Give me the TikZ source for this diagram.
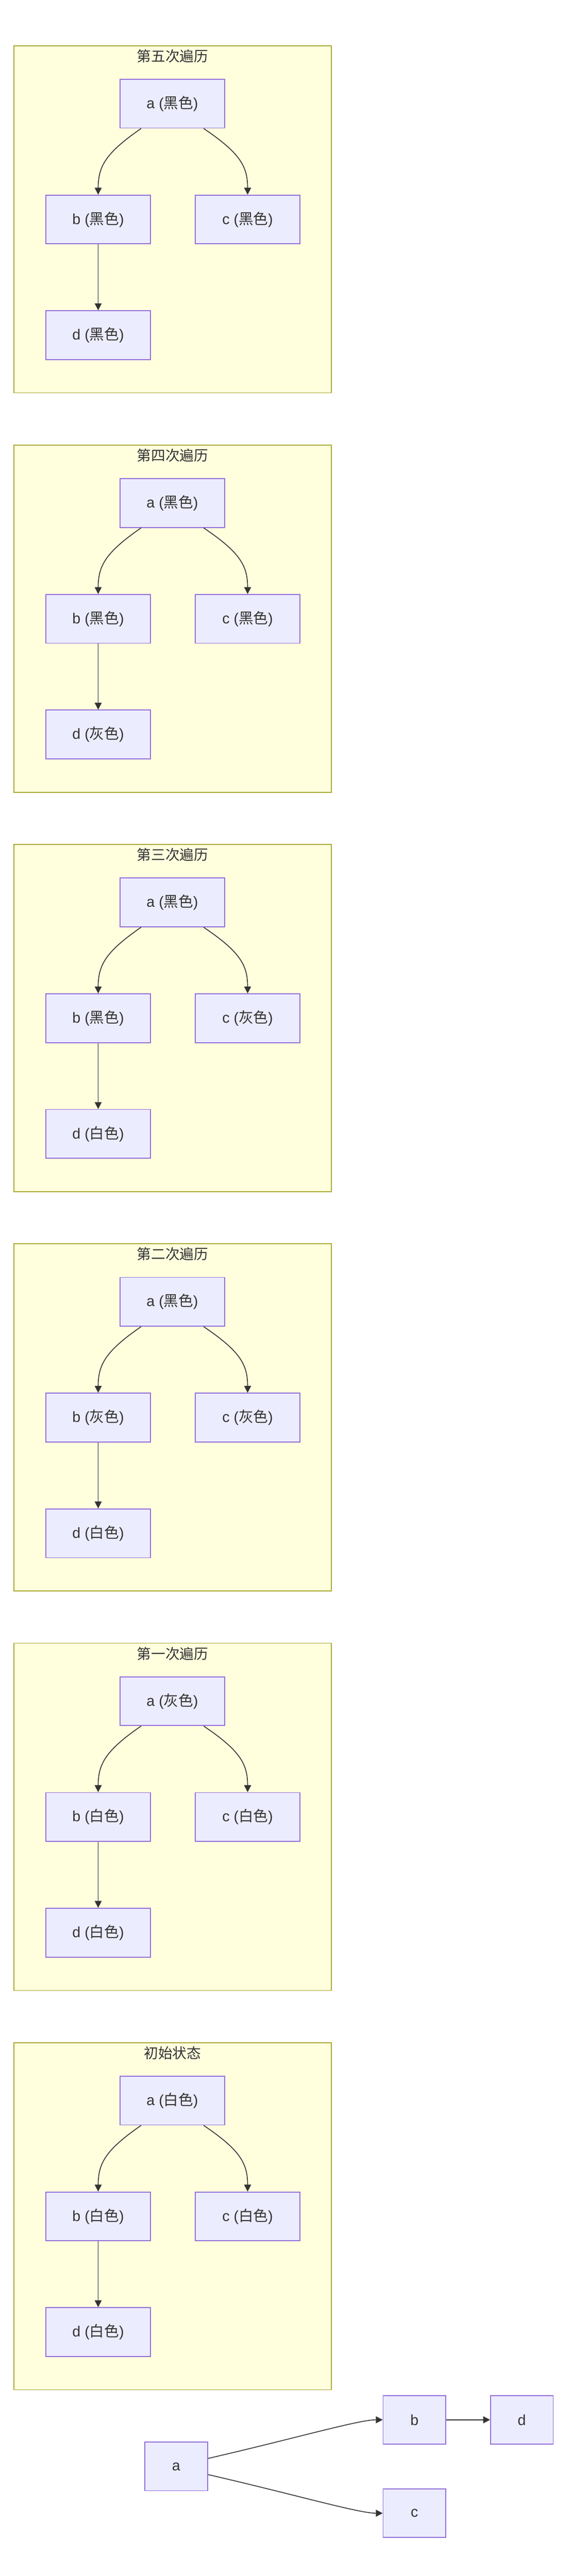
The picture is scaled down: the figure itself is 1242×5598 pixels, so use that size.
\documentclass[tikz,border=0pt]{standalone}
\usepackage{fontspec}
\setmainfont{Liberation Sans}
\newfontfamily\cjk{Noto Sans CJK SC}
\usetikzlibrary{arrows.meta,calc}
\definecolor{nodefill}{HTML}{ECECFF}
\definecolor{nodeline}{HTML}{9370DB}
\definecolor{clusterfill}{HTML}{FFFFDE}
\definecolor{clusterline}{HTML}{AAAA33}
\definecolor{inktext}{HTML}{333333}
\tikzset{
  clusterbox/.style={rectangle, draw=clusterline, fill=clusterfill, line width=2pt,
    minimum width=689.5pt, minimum height=754.5pt, inner sep=0pt},
  titletext/.style={text=inktext, inner sep=0pt, font=\cjk\fontsize{31}{37}\selectfont},
  nodebox/.style={rectangle, draw=nodeline, fill=nodefill, line width=2pt,
    minimum width=227.5pt, minimum height=106pt, inner sep=0pt, text=inktext,
    font=\fontsize{32}{38}\selectfont},
  smallbox/.style={nodebox, minimum width=136pt, minimum height=105.5pt},
  edge/.style={draw=inktext, line width=1.8pt, -{Triangle[length=15pt,width=15pt]}}
}
\newcommand{\travcluster}[7]{%
  \node[clusterbox] (#2f) at (375.25,#1+377.25) {};
  \node[titletext] (#2t) at (375,#1+22.5) {#3};
  \node[nodebox] (#2a) at (374.5,#1+126) {a ({\cjk #4})};
  \node[nodebox] (#2b) at (213.3,#1+377.7) {b ({\cjk #5})};
  \node[nodebox] (#2c) at (538,#1+377.7) {c ({\cjk #6})};
  \node[nodebox] (#2d) at (213.3,#1+629) {d ({\cjk #7})};
  \draw[edge] ($(#2a.south)+(-68,0)$) .. controls ($(#2a.south)+(-144.5,53)$) and ($(#2b.north)+(0,-62)$) .. (#2b.north);
  \draw[edge] ($(#2a.south)+(68,0)$) .. controls ($(#2a.south)+(146.5,53)$) and ($(#2c.north)+(0,-62)$) .. (#2c.north);
  \draw[edge] (#2b.south) -- (#2d.north);
}
\begin{document}
\begin{tikzpicture}[x=1pt,y=-1pt]
  \path[fill=white, use as bounding box] (0,0) rectangle (1242,5598);
  \travcluster{99.3}{k0}{第五次遍历}{黑色}{黑色}{黑色}{黑色}
  \travcluster{967.2}{k1}{第四次遍历}{黑色}{黑色}{黑色}{灰色}
  \travcluster{1835.1}{k2}{第三次遍历}{黑色}{黑色}{灰色}{白色}
  \travcluster{2703.0}{k3}{第二次遍历}{黑色}{灰色}{灰色}{白色}
  \travcluster{3570.9}{k4}{第一次遍历}{灰色}{白色}{白色}{白色}
  \travcluster{4438.8}{k5}{初始状态}{白色}{白色}{白色}{白色}
  % plain graph
  \node[smallbox] (ga) at (382.8,5360) {a};
  \node[smallbox] (gb) at (900.5,5258.5) {b};
  \node[smallbox] (gc) at (900.5,5461.5) {c};
  \node[smallbox] (gd) at (1133.8,5258.5) {d};
  \draw[edge] ($(ga.east)+(0,-17.5)$) .. controls ($(ga.east)+(189,-61)$) and ($(gb.west)+(-52.5,0)$) .. (gb.west);
  \draw[edge] ($(ga.east)+(0,17.5)$) .. controls ($(ga.east)+(189,61)$) and ($(gc.west)+(-52.5,0)$) .. (gc.west);
  \draw[edge] (gb.east) -- (gd.west);
\end{tikzpicture}
\end{document}
